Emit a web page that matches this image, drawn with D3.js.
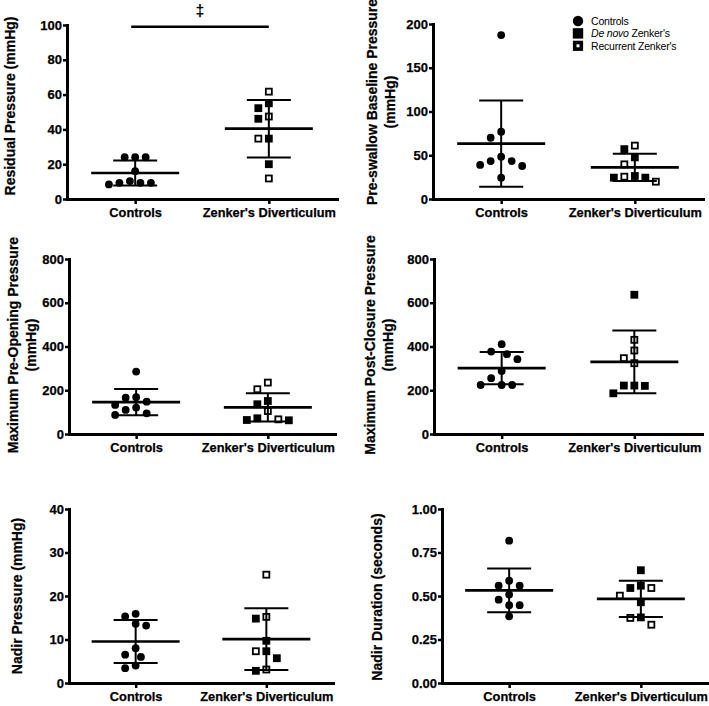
<!DOCTYPE html>
<html>
<head>
<meta charset="utf-8">
<script src="https://cdn.jsdelivr.net/npm/d3@7"></script>
<style>
  body { margin: 0; background: #fff; }
  svg { display: block; font-family: 'Liberation Sans', Arial, sans-serif; }
</style>
</head>
<body>
<div class="canvas"></div>
<script>
const categories = ['Controls', "Zenker's Diverticulum"];
const legendLabels = ['Controls', 'De novo', 'Recurrent Zenker\'s'];

// values, one array per group
const residualControls = [24, 24, 24, 16, 10.3, 9.3, 8.4, 9.3, 9.3];
const residualDeNovo = [52.2, 55, 46.1, 34.7, 20];
const residualRecurrent = [61.7, 47.4, 34.7, 11.8];
const residualTicks = [0, 20, 40, 60, 80, 100];

const baselineControls = [187.4, 77, 70, 43.4, 38.9, 37.7, 43.4, 48.4, 24.4];
const baselineDeNovo = [57, 47.6, 26.3, 24.4, 24.4];
const baselineRecurrent = [61, 39.6, 19.8, 25.5];
const baselineTicks = [0, 50, 100, 150, 200];

const preOpeningControls = [285.5, 166, 168, 133, 148, 110, 120.6, 87, 94.7];
const preOpeningDeNovo = [151, 136, 62.6, 64, 71.8];
const preOpeningRecurrent = [235, 204.6, 105, 67];

const postClosureControls = [410.7, 377, 365, 342, 288.5, 255, 224, 224, 224];
const postClosureDeNovo = [636.6, 221.4, 220, 221.4, 186];
const postClosureRecurrent = [430.5, 381.7, 346.6, 323.7];
const pressureTicks = [0, 200, 400, 600, 800];

const nadirControls = [15.9, 15.3, 13.2, 13.6, 8.0, 6.5, 6.0, 3.4, 4.0];
const nadirDeNovo = [14.8, 9.7, 7.3, 5.7, 2.8];
const nadirRecurrent = [24.9, 15.2, 7.3, 3.1];
const nadirTicks = [0, 10, 20, 30, 40];

const durationControls = [0.818, 0.588, 0.559, 0.559, 0.508, 0.479, 0.447, 0.447, 0.383];
const durationDeNovo = [0.648, 0.559, 0.546, 0.464, 0.377];
const durationRecurrent = [0.546, 0.502, 0.374, 0.335];
const durationTicks = [0, 0.25, 0.5, 0.75, 1];

// significance bar on the residual pressure panel
const sigValue = 99;
const sigLabel = '\u2021';

const width = 709;
const height = 706;

const panels = [
  { title: ['Residual Pressure (mmHg)'], c: residualControls, dn: residualDeNovo, rc: residualRecurrent,
    ticks: residualTicks, fmt: d3.format('d'), box: { x: 67, y: 25, w: 270, h: 174 }, tx: [-57], ty: 106, sig: true },
  { title: ['Pre-swallow Baseline Pressure', '(mmHg)'], c: baselineControls, dn: baselineDeNovo, rc: baselineRecurrent,
    ticks: baselineTicks, fmt: d3.format('d'), box: { x: 433, y: 24, w: 270, h: 175 }, tx: [-61, -43], ty: 102, legend: true },
  { title: ['Maximum Pre-Opening Pressure', '(mmHg)'], c: preOpeningControls, dn: preOpeningDeNovo, rc: preOpeningRecurrent,
    ticks: pressureTicks, fmt: d3.format('d'), box: { x: 69, y: 259, w: 266, h: 175 }, tx: [-56, -38], ty: 345 },
  { title: ['Maximum Post-Closure Pressure', '(mmHg)'], c: postClosureControls, dn: postClosureDeNovo, rc: postClosureRecurrent,
    ticks: pressureTicks, fmt: d3.format('d'), box: { x: 434, y: 259, w: 268, h: 175 }, tx: [-64, -46], ty: 345 },
  { title: ['Nadir Pressure (mmHg)'], c: nadirControls, dn: nadirDeNovo, rc: nadirRecurrent,
    ticks: nadirTicks, fmt: d3.format('d'), box: { x: 69, y: 509, w: 264, h: 174 }, tx: [-52], ty: 596 },
  { title: ['Nadir Duration (seconds)'], c: durationControls, dn: durationDeNovo, rc: durationRecurrent,
    ticks: durationTicks, fmt: d3.format('.2f'), box: { x: 442, y: 509, w: 266, h: 174 }, tx: [-65], ty: 597 }
];

const svg = d3
  .select('.canvas')
  .append('svg')
  .attr('width', width)
  .attr('height', height);

// greedy beeswarm: nudge each dot sideways until it clears the others
const swarm = (points, y) => {
  const step = 5.25;
  const minDist = 10;
  const placed = [];
  points
    .slice()
    .sort((a, b) => b.value - a.value)
    .forEach(p => {
      const py = y(p.value);
      for (let k = 0; k < 40; k++) {
        const off = k === 0 ? 0 : (k % 2 ? -1 : 1) * Math.ceil(k / 2) * step;
        const ok = placed.every(q => Math.hypot(q.dx - off, q.py - py) >= minDist);
        if (ok) {
          placed.push({ ...p, dx: off, py });
          break;
        }
      }
    });
  return placed;
};

const drawMarker = (sel, type, size) => {
  if (type === 'control') {
    sel.append('circle').attr('r', size / 2).attr('fill', '#000');
  } else if (type === 'deNovo') {
    sel
      .append('rect')
      .attr('x', -size / 2)
      .attr('y', -size / 2)
      .attr('width', size)
      .attr('height', size)
      .attr('fill', '#000');
  } else {
    sel
      .append('rect')
      .attr('x', -size / 2 + 0.9)
      .attr('y', -size / 2 + 0.9)
      .attr('width', size - 1.8)
      .attr('height', size - 1.8)
      .attr('fill', '#fff')
      .attr('stroke', '#000')
      .attr('stroke-width', 1.8);
  }
};

panels.forEach(p => {
  const { box } = p;
  const g = svg.append('g').attr('transform', `translate(${box.x}, ${box.y})`);

  const x = d3.scalePoint().domain(categories).range([0, box.w]).padding(0.51);
  const y = d3
    .scaleLinear()
    .domain([0, d3.max(p.ticks)])
    .range([box.h, 0]);

  // axes
  const xAxis = d3.axisBottom(x).tickSize(5).tickSizeOuter(0).tickPadding(4);
  const yAxis = d3
    .axisLeft(y)
    .tickValues(p.ticks)
    .tickFormat(p.fmt)
    .tickSize(4)
    .tickSizeOuter(0)
    .tickPadding(1);

  const xg = g.append('g').attr('transform', `translate(0, ${box.h})`).call(xAxis);
  const yg = g.append('g').call(yAxis);

  [xg, yg].forEach(a => {
    a.select('.domain').attr('stroke-width', 3).attr('stroke-linecap', 'square');
    a.selectAll('.tick line').attr('stroke-width', 2.5);
    a.selectAll('text')
      .attr('font-size', 13)
      .attr('font-weight', 'bold')
      .attr('fill', '#000')
      .attr('stroke', '#000')
      .attr('stroke-width', 0.25);
  });
  xg.selectAll('text').attr('font-size', 12.8);

  // axis title
  p.title.forEach((t, i) => {
    g.append('text')
      .attr('transform', `translate(${p.tx[i]}, ${p.ty - box.y}) rotate(-90)`)
      .attr('text-anchor', 'middle')
      .attr('dominant-baseline', 'central')
      .attr('font-size', 14)
      .attr('font-weight', 'bold')
      .attr('stroke', '#000')
      .attr('stroke-width', 0.25)
      .text(t);
  });

  const groups = [
    { cat: categories[0], pts: p.c.map(v => ({ value: v, type: 'control' })) },
    {
      cat: categories[1],
      pts: p.dn
        .map(v => ({ value: v, type: 'deNovo' }))
        .concat(p.rc.map(v => ({ value: v, type: 'recurrent' })))
    }
  ];

  groups.forEach(grp => {
    const cx = x(grp.cat);
    const vals = grp.pts.map(d => d.value);
    const mean = d3.mean(vals);
    const sd = d3.deviation(vals);

    // dots
    swarm(grp.pts, y).forEach(d => {
      const m = g.append('g').attr('transform', `translate(${cx + d.dx}, ${d.py})`);
      drawMarker(m, d.type, 7.8);
    });

    // mean and SD
    const stats = g.append('g').attr('stroke', '#000');
    stats
      .append('line')
      .attr('x1', cx)
      .attr('x2', cx)
      .attr('y1', y(mean + sd))
      .attr('y2', y(mean - sd))
      .attr('stroke-width', 2);
    [mean + sd, mean - sd].forEach(v => {
      stats
        .append('line')
        .attr('x1', cx - 22)
        .attr('x2', cx + 22)
        .attr('y1', y(v))
        .attr('y2', y(v))
        .attr('stroke-width', 2);
    });
    stats
      .append('line')
      .attr('x1', cx - 44)
      .attr('x2', cx + 44)
      .attr('y1', y(mean))
      .attr('y2', y(mean))
      .attr('stroke-width', 2.7);
  });

  if (p.sig) {
    g.append('line')
      .attr('x1', x(categories[0]) - 4)
      .attr('x2', x(categories[1]))
      .attr('y1', y(sigValue))
      .attr('y2', y(sigValue))
      .attr('stroke', '#000')
      .attr('stroke-width', 2.7);
    g.append('text')
      .attr('x', (x(categories[0]) - 4 + x(categories[1])) / 2)
      .attr('y', y(sigValue) - 11)
      .attr('text-anchor', 'middle')
      .attr('font-size', 16)
      .attr('font-weight', 'bold')
      .text(sigLabel);
  }

  if (p.legend) {
    const lg = svg.append('g').attr('transform', 'translate(578, 21)');
    const types = ['control', 'deNovo', 'recurrent'];
    types.forEach((t, i) => {
      const row = lg.append('g').attr('transform', `translate(0, ${i * 12.4})`);
      if (t === 'recurrent') {
        row
          .append('rect')
          .attr('x', -3.3)
          .attr('y', -3.3)
          .attr('width', 6.6)
          .attr('height', 6.6)
          .attr('fill', '#fff')
          .attr('stroke', '#000')
          .attr('stroke-width', 3.6);
      } else {
        drawMarker(row, t, 10.4);
      }
      const label = row
        .append('text')
        .attr('x', 13)
        .attr('y', 3.8)
        .attr('font-size', 10.5)
        .attr('letter-spacing', -0.2);
      if (t === 'deNovo') {
        label.append('tspan').attr('font-style', 'italic').text(legendLabels[1]);
        label.append('tspan').text(" Zenker's");
      } else {
        label.text(legendLabels[i]);
      }
    });
  }
});
</script>
</body>
</html>
